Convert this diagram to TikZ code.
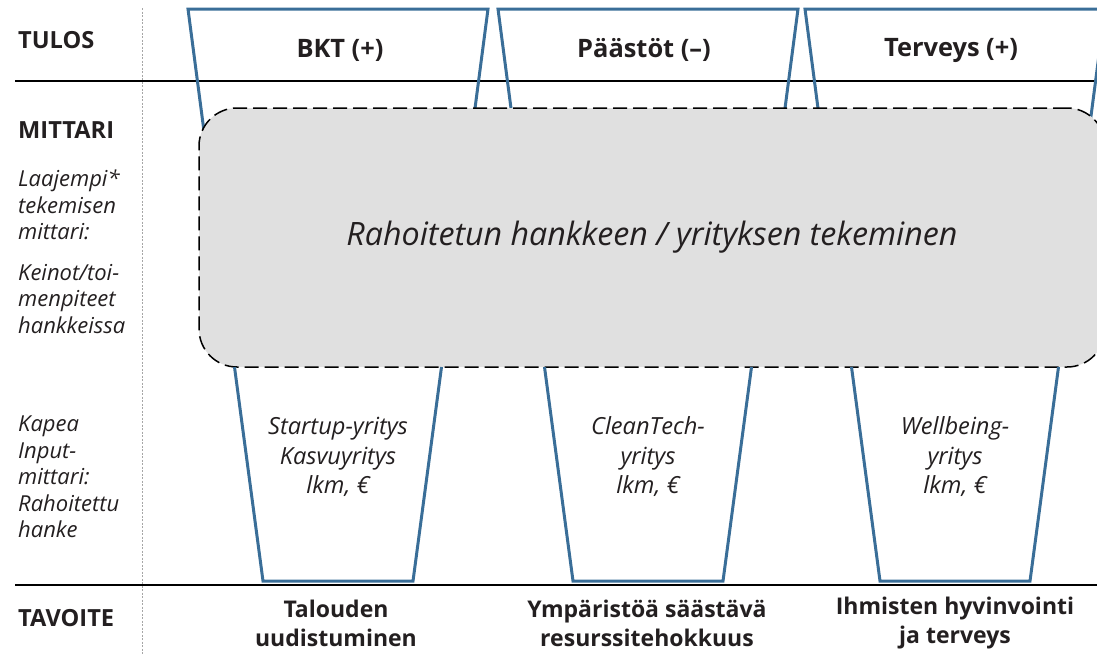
\documentclass[tikz,border=0pt]{standalone}
\usepackage{fontspec}
\setmainfont{Open Sans}

\definecolor{ink}{HTML}{231F20}
\definecolor{cupblue}{HTML}{3A6E98}
\definecolor{boxgray}{HTML}{E0E0E0}

\tikzset{
    rowlabel/.style={anchor=west, inner sep=0pt, text=ink, font=\bfseries\fontsize{23.6}{27}\selectfont},
    sidenote/.style={anchor=west, align=left, inner sep=0pt, text=ink, font=\itshape\fontsize{22}{26.5}\selectfont},
    headtext/.style={inner sep=0pt, text=ink, font=\bfseries\fontsize{25.4}{29}\selectfont},
    cuptext/.style={align=center, inner sep=0pt, text=ink, font=\itshape\fontsize{23.6}{29.5}\selectfont},
    goaltext/.style={align=center, inner sep=0pt, text=ink, font=\bfseries\fontsize{23}{29}\selectfont},
    cup/.style={draw=cupblue, line width=3pt},
}

\begin{document}
\begin{tikzpicture}[x=1pt,y=-1pt]
    \useasboundingbox (0,0) rectangle (1097,654);

    % row separators
    \draw[gray!70, line width=1pt, dash pattern=on 2pt off 1.5pt] (142,8) -- (142,654);
    \draw[line width=1.6pt] (15,81) -- (1097,81);
    \draw[line width=2pt] (15,585) -- (1097,585);

    % result cups, open downwards
    \foreach \c in {338, 648, 955} {
        \draw[cup] (\c-125,200) -- (\c-150,9) -- (\c+150,9) -- (\c+125,200);
    }

    \node[draw=black, line width=1.5pt, dash pattern=on 14pt off 6pt, fill=boxgray,
          rounded corners=38pt, minimum width=906pt, minimum height=259pt,
          text=ink, font=\itshape\fontsize{32.2}{36}\selectfont] (doing) at (652,237.5)
          {Rahoitetun hankkeen / yrityksen tekeminen};

    % input cups
    \foreach \c in {338, 648, 955} {
        \draw[cup] (\c-103.5,367) -- (\c-75,581) -- (\c+75,581) -- (\c+103.5,367);
    }

    \foreach \x/\t [count=\i] in {340/BKT (+), 644/Päästöt (–), 951/Terveys (+)} {
        \node[headtext] (result\i) at (\x,50) {\t};
    }

    \foreach \c/\t [count=\i] in {338/{Startup-yritys\\Kasvuyritys\\lkm, €},
                                  648/{CleanTech-\\yritys\\lkm, €},
                                  955/{Wellbeing-\\yritys\\lkm, €}} {
        \node[cuptext] (input\i) at (\c,457) {\t};
    }

    \foreach \x/\t [count=\i] in {336/{Talouden\\uudistuminen},
                                  647/{Ympäristöä säästävä\\resurssitehokkuus},
                                  955/{Ihmisten hyvinvointi\\ja terveys}} {
        \node[goaltext] (goal\i) at (\x,623) {\t};
    }

    % left column
    \node[rowlabel] (tulos) at (18,40) {TULOS};
    \node[rowlabel] (mittari) at (18,130) {MITTARI};
    \node[sidenote] (wide) at (18,205) {Laajempi*\\tekemisen\\mittari:};
    \node[sidenote] (means) at (18,299) {Keinot/toi-\\menpiteet\\hankkeissa};
    \node[sidenote] (narrow) at (18,477) {Kapea\\Input-\\mittari:\\Rahoitettu\\hanke};
    \node[rowlabel] (tavoite) at (18,618) {TAVOITE};
\end{tikzpicture}
\end{document}
